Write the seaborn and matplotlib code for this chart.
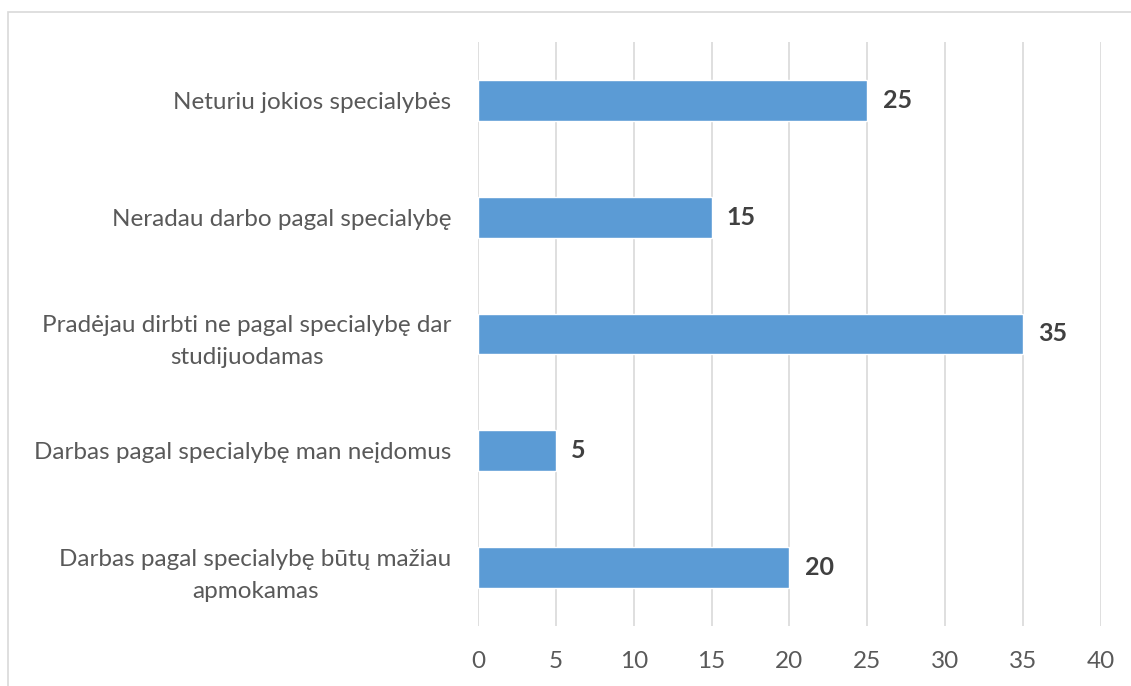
import matplotlib
matplotlib.use("Agg")
import matplotlib.pyplot as plt
import seaborn as sns
import pandas as pd
from matplotlib.patches import Rectangle

# dati
categories = [
    "Neturiu jokios specialybės",
    "Neradau darbo pagal specialybę",
    "Pradėjau dirbti ne pagal specialybę dar\nstudijuodamas",
    "Darbas pagal specialybę man neįdomus",
    "Darbas pagal specialybę būtų mažiau\napmokamas",
]
values = [25, 15, 35, 5, 20]
x_ticks = [0, 5, 10, 15, 20, 25, 30, 35, 40]

df = pd.DataFrame({"reason": categories, "count": values})

sns.set_theme(style="white")
plt.rcParams["font.family"] = ["Lato", "DejaVu Sans"]

fig = plt.figure(figsize=(11.31, 6.86), dpi=100)
ax = fig.add_axes([0.4226, 0.0875, 0.5509, 0.8513])

sns.barplot(data=df, y="reason", x="count", orient="h", color="#5B9BD5",
            width=0.35, saturation=1, ax=ax)

ax.set_xlim(0, 40)
ax.set_xticks(x_ticks)
ax.set_xlabel("")
ax.set_ylabel("")
ax.grid(axis="x", color="#D9D9D9", linewidth=1.2)
ax.set_axisbelow(True)
for s in ax.spines.values():
    s.set_visible(False)

ax.tick_params(axis="x", length=0, pad=18, labelsize=17.5, labelcolor="#595959")
ax.tick_params(axis="y", length=0, pad=19, labelsize=17.5, labelcolor="#595959")
for t in ax.get_yticklabels():
    t.set_multialignment("center")
    t.set_linespacing(1.65)

for cont in ax.containers:
    ax.bar_label(cont, padding=11, fontsize=18, fontweight="bold", color="#404040")

# cornice del grafico
fig.patches.append(Rectangle((8 / 1131, -0.1), 1.2, (686 - 12) / 686 + 0.1,
                             transform=fig.transFigure, fill=False,
                             edgecolor="#D9D9D9", linewidth=1.2))

fig.savefig("out.png", dpi=100)
